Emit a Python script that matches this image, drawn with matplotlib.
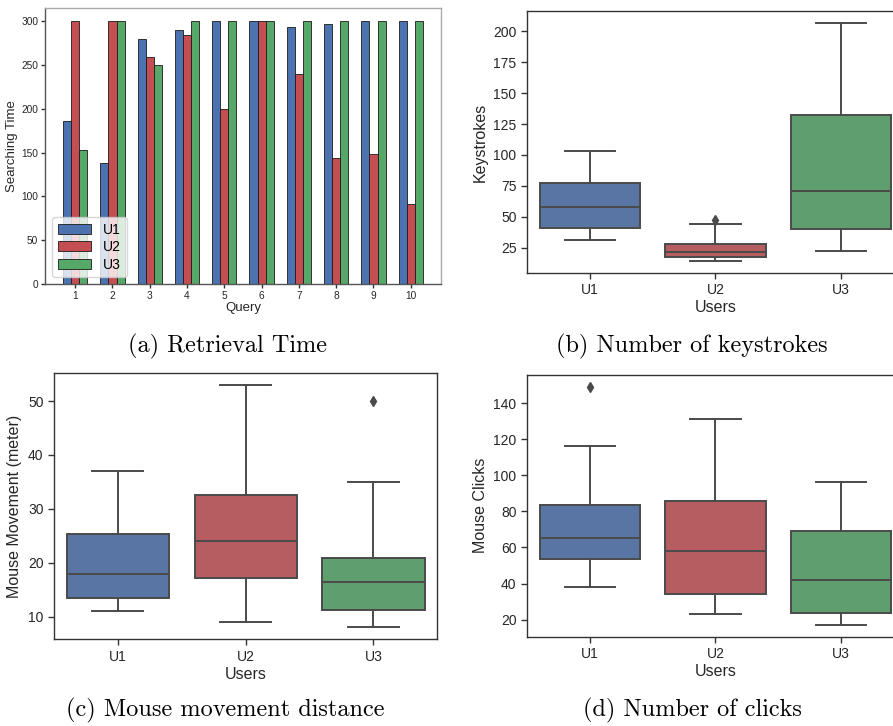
import numpy as np
import matplotlib
matplotlib.use("Agg")
import matplotlib.pyplot as plt

# ---- data ----
queries = [1, 2, 3, 4, 5, 6, 7, 8, 9, 10]
time_u1 = [186, 138, 280, 290, 300, 300, 294, 297, 300, 300]
time_u2 = [300, 300, 259, 284, 200, 300, 240, 144, 149, 91]
time_u3 = [153, 300, 250, 300, 300, 300, 300, 300, 300, 300]

users = ["U1", "U2", "U3"]

# box stats: whislo, q1, med, q3, whishi, fliers
keys_lo = [31, 14, 22]
keys_q1 = [41, 17.7, 40.4]
keys_med = [57.6, 21.5, 70.5]
keys_q3 = [77.6, 28.2, 132.3]
keys_hi = [103, 44, 207]
keys_fl = [[], [47.4], []]

move_lo = [11, 9.1, 8.1]
move_q1 = [13.5, 17.2, 11.3]
move_med = [18.0, 24.0, 16.5]
move_q3 = [25.3, 32.5, 20.8]
move_hi = [37, 53, 35]
move_fl = [[], [], [50]]

click_lo = [38, 23, 17]
click_q1 = [53.4, 34.2, 24]
click_med = [65.4, 58, 42]
click_q3 = [83.7, 85.5, 69]
click_hi = [116, 131, 96]
click_fl = [[149], [], []]

bar_colors = ["#4C72B0", "#C44E52", "#55A868"]
box_colors = ["#5875A4", "#B55D60", "#5F9E6E"]
line_gray = "#4a4a4a"

plt.rcParams["font.family"] = ["Liberation Sans", "DejaVu Sans"]
fig = plt.figure(figsize=(8.93, 7.26), dpi=100)


def style_axes(ax, fs):
    for s in ax.spines.values():
        s.set_color("#333333")
        s.set_linewidth(1.0)
    ax.tick_params(direction="out", length=4, width=1, colors="#333333",
                   labelsize=fs, labelcolor="#262626")


def box_panel(rect, lo, q1, med, q3, hi, fl, ylabel, ylim):
    ax = fig.add_axes(rect)
    stats = []
    for i in range(3):
        stats.append(dict(whislo=lo[i], q1=q1[i], med=med[i], q3=q3[i],
                          whishi=hi[i], fliers=fl[i], label=users[i]))
    lw = 1.4
    bp = ax.bxp(stats, positions=[0, 1, 2], widths=0.8, patch_artist=True,
                boxprops=dict(edgecolor=line_gray, linewidth=lw),
                medianprops=dict(color=line_gray, linewidth=lw),
                whiskerprops=dict(color=line_gray, linewidth=lw),
                capprops=dict(color=line_gray, linewidth=lw),
                flierprops=dict(marker="d", markerfacecolor=line_gray,
                                markeredgecolor=line_gray, markersize=5))
    for patch, c in zip(bp["boxes"], box_colors):
        patch.set_facecolor(c)
    for cap in bp["caps"]:
        m = cap.get_xdata().mean()
        cap.set_xdata([m - 0.2, m + 0.2])
    ax.set_xlim(-0.5, 2.5)
    ax.set_ylim(*ylim)
    ax.set_xlabel("Users", fontsize=11.5, color="#262626", labelpad=2)
    ax.set_ylabel(ylabel, fontsize=11.5, color="#262626")
    style_axes(ax, 10)
    return ax


# (a) bar chart
axa = fig.add_axes([0.0504, 0.6088, 0.4434, 0.380])
w = 0.217
x = np.array(queries)
for off, vals, c, lab in zip([-w, 0, w], [time_u1, time_u2, time_u3],
                             bar_colors, users):
    axa.bar(x + off, vals, width=w, color=c, edgecolor="#1a1a1a",
            linewidth=0.6, label=lab)
axa.set_xlim(0.19, 10.81)
axa.set_ylim(0, 315)
axa.set_xticks(queries)
axa.set_yticks([0, 50, 100, 150, 200, 250, 300])
axa.set_xlabel("Query", fontsize=9.5, color="#262626", labelpad=1)
axa.set_ylabel("Searching Time", fontsize=9.5, color="#262626", labelpad=2)
style_axes(axa, 7.3)
axa.spines["top"].set_color("#aaaaaa")
axa.spines["right"].set_color("#aaaaaa")
axa.spines["left"].set_color("#555555")
axa.spines["bottom"].set_color("#555555")
axa.tick_params(length=3, pad=2)
axa.legend(loc="lower left", fontsize=10, frameon=True, handlelength=2.4,
           borderpad=0.4, labelspacing=0.25, handletextpad=0.9)

# (b) keystrokes
box_panel([0.5901, 0.6240, 0.4222, 0.3609], keys_lo, keys_q1, keys_med,
          keys_q3, keys_hi, keys_fl, "Keystrokes", (4.5, 216.5))

# (c) mouse movement
box_panel([0.0605, 0.1194, 0.4292, 0.3672], move_lo, move_q1, move_med,
          move_q3, move_hi, move_fl, "Mouse Movement (meter)", (5.8, 55.25))

# (d) clicks
box_panel([0.5901, 0.1230, 0.4222, 0.3609], click_lo, click_q1, click_med,
          click_q3, click_hi, click_fl, "Mouse Clicks", (10.6, 155.7))

# captions
cap_kw = dict(fontsize=17.5, family="cmr10", ha="center", va="center")
fig.text(227 / 893, 1 - 346 / 726, "(a) Retrieval Time", **cap_kw)
fig.text(692 / 893, 1 - 346 / 726, "(b) Number of keystrokes", **cap_kw)
fig.text(225 / 893, 1 - 710 / 726, "(c) Mouse movement distance", **cap_kw)
fig.text(692 / 893, 1 - 710 / 726, "(d) Number of clicks", **cap_kw)

fig.savefig("out.png", dpi=100)
